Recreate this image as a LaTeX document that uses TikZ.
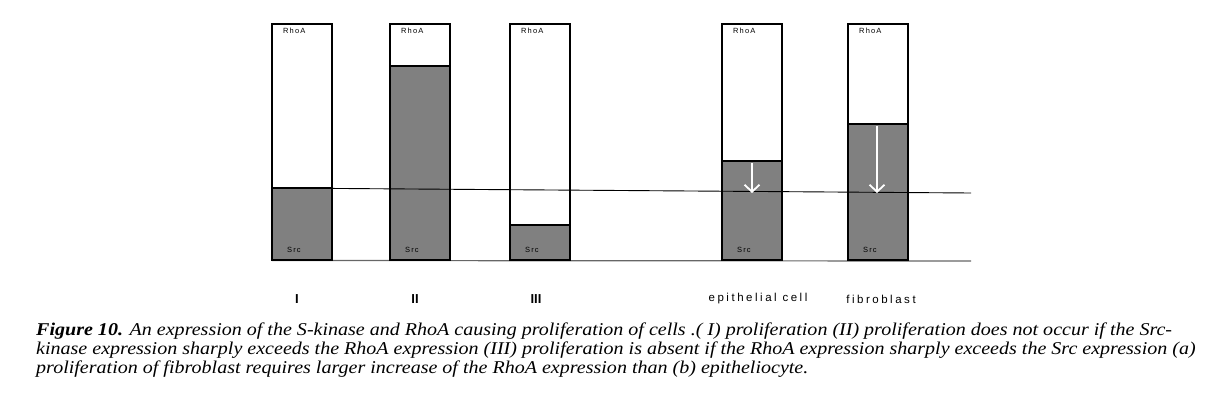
\documentclass[tikz,border=0pt]{standalone}
\usepackage{fontspec}
\usepackage{graphicx}
\setmainfont{Liberation Serif}
\setsansfont{Liberation Sans}
\usetikzlibrary{arrows.meta}
\begin{document}
\begin{tikzpicture}[x=1pt,y=-1pt,
  bar/.style={draw=black,line width=1.3pt,fill=white},
  lvl/.style={draw=black,line width=1.3pt,fill=black!50},
  tag/.style={font=\sffamily\fontsize{7.5}{8}\selectfont\addfontfeature{LetterSpace=15},inner sep=0pt,anchor=west},
  num/.style={font=\sffamily\bfseries\fontsize{13}{14}\selectfont,inner sep=0pt},
  cell/.style={font=\sffamily\fontsize{11.5}{12}\selectfont\addfontfeature{LetterSpace=22},inner sep=0pt},
  refline/.style={draw=black!60,line width=1.2pt},
  capt/.style={anchor=west,inner sep=0pt,font=\fontsize{18}{19}\selectfont},
  wa/.style={draw=white,line width=1.8pt,-{Straight Barb[length=7pt,width=15pt,line width=1.8pt]}}]
\useasboundingbox (0,0) rectangle (1215,396);
% bars: x-left, fill top
\foreach \n/\xl/\ft in {b1/272/188,b2/390/66,b3/510/225,b4/722/161,b5/848/124}{
  \path[bar] (\xl,24) rectangle (\xl+60,260);
  \path[lvl] (\xl,\ft) rectangle (\xl+60,260);
  \node[tag] (\n r) at (\xl+11,31) {RhoA};
  \node[tag] (\n s) at (\xl+15,250) {Src};
}
% reference lines
\coordinate (l0) at (272,188);
\coordinate (l1) at (971,193);
\coordinate (m0) at (272,260.5);
\coordinate (m1) at (971,261);
\draw[draw=black,line width=0.9pt] (l0) -- (l1);
\draw[refline] (m0) -- (m1);
% redraw bars over line segments
\foreach \xl/\ft in {272/188,390/66,510/225,722/161,848/124}{
  \draw[line width=1.3pt] (\xl,24) rectangle (\xl+60,260);
  \draw[line width=1.3pt] (\xl,\ft) -- (\xl+60,\ft);
}
% arrows
\coordinate (a0) at (752,163);
\coordinate (a1) at (752,193);
\coordinate (c0) at (877,126);
\coordinate (c1) at (877,193);
\draw[wa] (a0) -- (a1);
\draw[wa] (c0) -- (c1);
% labels
\node[num] (n1) at (297,299) {I};
\node[num] (n2) at (415,299) {II};
\node[num] (n3) at (536,299) {III};
\node[cell] (n4) at (758,299) {epithelial cell};
\node[cell] (n5) at (881,299) {fibroblast};
% caption
\node[capt] (cap1) at (36,331) {\scalebox{1.113}[1]{\textbf{\textit{Figure 10.}} \textit{An expression of the S-kinase and RhoA causing proliferation of cells .( I) proliferation (II) proliferation does not occur if the Src-}}};
\node[capt] (cap2) at (36,350) {\scalebox{1.113}[1]{\textit{kinase expression sharply exceeds the RhoA expression (III) proliferation is absent if the RhoA expression sharply exceeds the Src expression (a)}}};
\node[capt] (cap3) at (36,369) {\scalebox{1.113}[1]{\textit{proliferation of fibroblast requires larger increase of the RhoA expression than (b) epitheliocyte.}}};
\end{tikzpicture}
\end{document}
